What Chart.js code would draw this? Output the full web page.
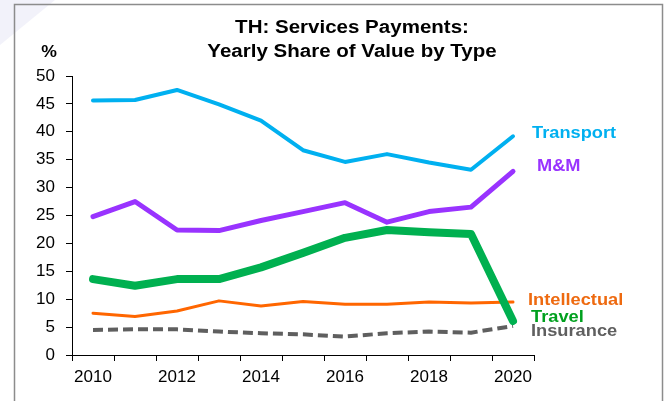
<!DOCTYPE html>
<html>
<head>
<meta charset="utf-8">
<script src="https://cdn.jsdelivr.net/npm/chart.js@4/dist/chart.umd.min.js"></script>
<style>
  html, body { margin: 0; padding: 0; background: #fff; }
  canvas { display: block; }
</style>
</head>
<body>
<canvas id="chart-services" width="669" height="401"></canvas>
<script>
// categories
const years = ['2010', '2011', '2012', '2013', '2014', '2015', '2016', '2017', '2018', '2019', '2020'];

// series values (% share of payments)
const transport    = [45.6, 45.7, 47.5, 44.9, 42.0, 36.7, 34.6, 36.0, 34.5, 33.2, 39.2];
const mAndM        = [24.8, 27.5, 22.4, 22.3, 24.1, 25.7, 27.3, 23.8, 25.7, 26.5, 32.9];
const travel       = [13.6, 12.4, 13.6, 13.6, 15.7, 18.3, 21.0, 22.4, 22.0, 21.7, 6.1];
const intellectual = [7.5, 6.9, 7.9, 9.7, 8.8, 9.6, 9.1, 9.1, 9.5, 9.3, 9.5];
const insurance    = [4.5, 4.6, 4.6, 4.2, 3.9, 3.7, 3.3, 3.9, 4.2, 4.0, 5.2];

// axis / text
const yTicks = [0, 5, 10, 15, 20, 25, 30, 35, 40, 45, 50];
const titleLines = ['TH: Services Payments:', 'Yearly Share of Value by Type'];
const seriesNames = ['Transport', 'M&M', 'Intellectual', 'Travel', 'Insurance'];

const FONT = '"Liberation Sans", Arial, sans-serif';

// where the end labels sit (pixels), kept apart from the data
const endLabels = [
    { text: seriesNames[0], color: '#00B0F0', x: 532, y: 134 },
    { text: seriesNames[1], color: '#9933FF', x: 537, y: 167 },
    { text: seriesNames[2], color: '#EE6A10', x: 528, y: 301 },
    { text: seriesNames[3], color: '#00A01E', x: 531, y: 318 },
    { text: seriesNames[4], color: '#5F5F5F', x: 531, y: 332 },
];

function stretchedText(ctx, text, x, y, align, sx) {
    ctx.save();
    ctx.translate(x, y);
    ctx.scale(sx, 1);
    ctx.textAlign = align;
    ctx.fillText(text, 0, 0);
    ctx.restore();
}

// background, frame, title and end labels
const decorPlugin = {
    id: 'decor',
    beforeDraw(chart) {
        const ctx = chart.ctx;
        ctx.save();
        ctx.fillStyle = '#ffffff';
        ctx.fillRect(0, 0, chart.width, chart.height);

        // faint shading in the top-left corner
        ctx.fillStyle = 'rgba(236, 236, 248, 0.7)';
        ctx.beginPath();
        ctx.moveTo(0, 0);
        ctx.lineTo(55, 0);
        ctx.lineTo(0, 45);
        ctx.closePath();
        ctx.fill();

        // frame
        ctx.strokeStyle = '#8c8c8c';
        ctx.lineWidth = 1.5;
        ctx.strokeRect(14.5, 4.5, 648, 420);
        ctx.restore();
    },
    afterDraw(chart) {
        const ctx = chart.ctx;
        ctx.save();
        ctx.textBaseline = 'middle';

        // title
        ctx.fillStyle = '#000';
        ctx.font = 'bold 18px ' + FONT;
        stretchedText(ctx, titleLines[0], 352, 28, 'center', 1.14);
        stretchedText(ctx, titleLines[1], 352, 52, 'center', 1.14);

        // unit
        ctx.font = 'bold 16px ' + FONT;
        stretchedText(ctx, '%', 49, 53, 'center', 1.1);

        // series labels
        ctx.font = 'bold 16px ' + FONT;
        endLabels.forEach(l => {
            ctx.fillStyle = l.color;
            stretchedText(ctx, l.text, l.x, l.y, 'left', 1.14);
        });
        ctx.restore();
    }
};

function createLineChart(idChart) {
    const ctx = document.getElementById(idChart).getContext('2d');

    const lineBase = {
        pointRadius: 0,
        pointHoverRadius: 0,
        tension: 0,
        fill: false,
        borderCapStyle: 'round',
        borderJoinStyle: 'round',
    };

    const myChart = new Chart(ctx, {
        type: 'line',
        data: {
            labels: years,
            datasets: [
                { ...lineBase, label: seriesNames[3], data: travel, borderColor: '#00B050', borderWidth: 8 },
                { ...lineBase, label: seriesNames[0], data: transport, borderColor: '#00B0F0', borderWidth: 4 },
                { ...lineBase, label: seriesNames[1], data: mAndM, borderColor: '#9933FF', borderWidth: 5 },
                { ...lineBase, label: seriesNames[2], data: intellectual, borderColor: '#FF6600', borderWidth: 3 },
                { ...lineBase, label: seriesNames[4], data: insurance, borderColor: '#5F5F5F', borderWidth: 4,
                  borderDash: [10, 5], borderCapStyle: 'butt' },
            ]
        },
        options: {
            responsive: false,
            animation: false,
            devicePixelRatio: 1,
            layout: {
                padding: { top: 76, right: 135, bottom: 0, left: 0 }
            },
            plugins: {
                legend: { display: false },
                title: { display: false },
                tooltip: { enabled: false },
            },
            scales: {
                x: {
                    type: 'category',
                    offset: true,
                    grid: {
                        offset: true,
                        drawOnChartArea: false,
                        drawTicks: true,
                        tickLength: 6,
                        color: '#000',
                    },
                    border: { display: true, color: '#000', width: 1 },
                    ticks: {
                        autoSkip: false,
                        maxRotation: 0,
                        padding: 6,
                        color: '#000',
                        font: { family: FONT, size: 17 },
                        callback: (value, index) => index % 2 === 0 ? years[index] : '',
                    },
                    afterFit: (scale) => { scale.height = 46; },
                },
                y: {
                    min: 0,
                    max: 50,
                    grid: {
                        drawOnChartArea: false,
                        drawTicks: true,
                        tickLength: 6,
                        color: '#000',
                    },
                    border: { display: true, color: '#000', width: 1 },
                    afterBuildTicks: (scale) => {
                        scale.ticks = yTicks.map(v => ({ value: v }));
                    },
                    ticks: {
                        padding: 11,
                        color: '#000',
                        font: { family: FONT, size: 17 },
                    },
                    afterFit: (scale) => { scale.width = 72; },
                }
            }
        },
        plugins: [decorPlugin]
    });

    return myChart;
}

createLineChart('chart-services');
</script>
</body>
</html>
